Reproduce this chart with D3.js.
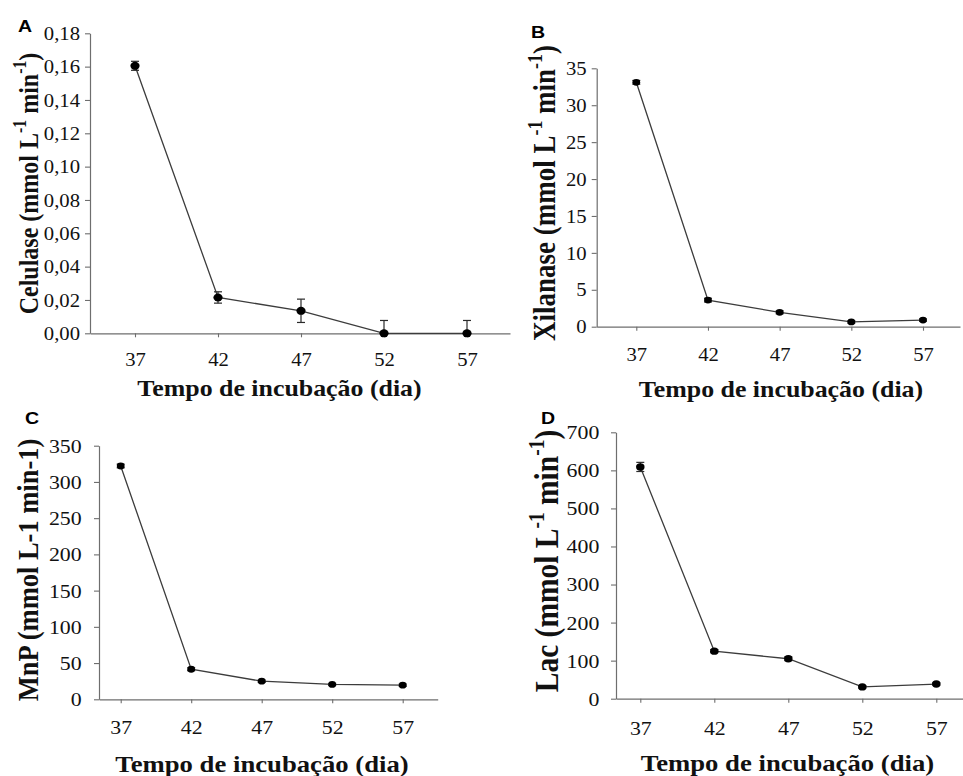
<!DOCTYPE html>
<html>
<head>
<meta charset="utf-8">
<script src="https://cdn.jsdelivr.net/npm/d3@7"></script>
<style>
  html, body { margin: 0; padding: 0; background: #fff; }
  svg { display: block; }
</style>
</head>
<body>
<svg id="chart" width="963" height="776"></svg>
<script>
// Incubation days (x categories)
const days = [37, 42, 47, 52, 57];

// Enzyme activity (mean) and error per day
const celulase    = [0.1605, 0.0215, 0.0135, 0.0, 0.0];
const celulaseErr = [0.0027, 0.0034, 0.0070, 0.0077, 0.0077];
const xilanase    = [33.1, 3.6, 1.95, 0.65, 0.9];
const xilanaseErr = [0.25, 0.25, 0.2, 0.15, 0.15];
const mnp         = [322, 41.5, 25, 20.5, 19.5];
const mnpErr      = [2.5, 2, 1.5, 1.5, 1.5];
const lac         = [609, 125, 105, 31, 38.5];
const lacErr      = [12, 4, 5, 3, 3];

// Y tick values
const celulaseTicks = [0, 0.02, 0.04, 0.06, 0.08, 0.10, 0.12, 0.14, 0.16, 0.18];
const xilanaseTicks = [0, 5, 10, 15, 20, 25, 30, 35];
const mnpTicks      = [0, 50, 100, 150, 200, 250, 300, 350];
const lacTicks      = [0, 100, 200, 300, 400, 500, 600, 700];

const xTitle = "Tempo de incubação (dia)";

const ptBR = d3.formatLocale({ decimal: ",", thousands: ".", grouping: [3], currency: ["R$", ""] });
const SX = 1.15;            // horizontal widening of glyphs
const SERIF = "'Liberation Serif', 'Times New Roman', serif";
const SANS = "'Liberation Sans', Arial, sans-serif";

const panels = [
  { letter: "A", letterPos: [25, 32], label: "Celulase", unitSup: true,
    values: celulase, errors: celulaseErr, ticks: celulaseTicks, fmt: ptBR.format(".2f"),
    axisL: 90, axisR: 510, yTop: 33.3, yBot: 333.3, x37: 135, x57: 467,
    tickFs: 18, labelGap: 10, xLabelOff: 26.7,
    yTitle: { x: 38, y: 183.5, fs: 24 }, xT: { x: 279.5, y: 396, fs: 22.5 }, r: 4 },
  { letter: "B", letterPos: [538, 38], label: "Xilanase", unitSup: true,
    values: xilanase, errors: xilanaseErr, ticks: xilanaseTicks, fmt: d3.format("d"),
    axisL: 596.7, axisR: 960, yTop: 68.3, yBot: 326.7, x37: 636.3, x57: 923,
    tickFs: 18, labelGap: 10, xLabelOff: 28.3,
    yTitle: { x: 555, y: 193, fs: 27 }, xT: { x: 781, y: 397, fs: 22.5 }, r: 3.4 },
  { letter: "C", letterPos: [32, 424], label: "MnP", unitSup: false,
    values: mnp, errors: mnpErr, ticks: mnpTicks, fmt: d3.format("d"),
    axisL: 99, axisR: 437.7, yTop: 445.7, yBot: 699.3, x37: 120.7, x57: 402.7,
    tickFs: 19, labelGap: 17.3, xLabelOff: 28.2,
    yTitle: { x: 38, y: 570, fs: 26.5 }, xT: { x: 262, y: 771.5, fs: 23.2 }, r: 3.4 },
  { letter: "D", letterPos: [548, 424], label: "Lac", unitSup: true,
    values: lac, errors: lacErr, ticks: lacTicks, fmt: d3.format("d"),
    axisL: 616, axisR: 963, yTop: 432.3, yBot: 698.7, x37: 640.3, x57: 936.3,
    tickFs: 19, labelGap: 16.7, xLabelOff: 29.6,
    yTitle: { x: 558, y: 561, fs: 29.5 }, xT: { x: 787.5, y: 770.5, fs: 23.2 }, r: 3.7 }
];

const svg = d3.select("#chart");
const AXIS = "#6e6e6e", LINE = "#3c3c3c", INK = "#111";

panels.forEach(p => {
  const g = svg.append("g");

  // x scale: day positions, axis line stretched to the panel edges
  const base = d3.scaleLinear().domain([37, 57]).range([p.x37, p.x57]);
  const x = d3.scaleLinear().domain([base.invert(p.axisL), base.invert(p.axisR)]).range([p.axisL, p.axisR]);
  const y = d3.scaleLinear().domain([0, d3.max(p.ticks)]).range([p.yBot, p.yTop]);

  // y axis
  const ya = g.append("g").attr("transform", `translate(${p.axisL},0)`)
    .call(d3.axisLeft(y).tickValues(p.ticks).tickFormat(p.fmt).tickSize(5).tickSizeOuter(0));
  ya.select(".domain").attr("stroke", AXIS).attr("stroke-width", 1.2);
  ya.selectAll(".tick line").attr("stroke", AXIS).attr("stroke-width", 1.1);
  ya.selectAll(".tick text")
    .attr("x", -p.labelGap / SX).attr("dy", "0.34em")
    .attr("transform", `scale(${SX},1)`)
    .attr("fill", INK).style("font-family", SERIF).style("font-size", p.tickFs + "px");

  // x axis
  const xa = g.append("g").attr("transform", `translate(0,${p.yBot})`)
    .call(d3.axisBottom(x).tickValues(days).tickFormat(d3.format("d")).tickSize(4).tickSizeOuter(0));
  xa.select(".domain").attr("stroke", AXIS).attr("stroke-width", 1.2);
  xa.selectAll(".tick line").attr("stroke", AXIS).attr("stroke-width", 1.1);
  xa.selectAll(".tick text")
    .attr("y", p.xLabelOff).attr("dy", "0.34em")
    .attr("transform", `scale(${SX},1)`)
    .attr("fill", INK).style("font-family", SERIF).style("font-size", p.tickFs + "px");

  const pts = days.map((d, i) => ({ d, v: p.values[i], e: p.errors[i] }));

  // connecting line
  g.append("path").datum(pts)
    .attr("fill", "none").attr("stroke", LINE).attr("stroke-width", 1.3)
    .attr("d", d3.line().x(q => x(q.d)).y(q => y(q.v)));

  // error bars (clipped at zero)
  const eb = g.append("g").attr("stroke", "#2a2a2a").attr("stroke-width", 1.2);
  pts.forEach(q => {
    const hi = y(q.v + q.e), lo = y(Math.max(0, q.v - q.e)), cx = x(q.d), cw = 4;
    eb.append("line").attr("x1", cx).attr("x2", cx).attr("y1", hi).attr("y2", lo);
    eb.append("line").attr("x1", cx - cw).attr("x2", cx + cw).attr("y1", hi).attr("y2", hi);
    if (q.v - q.e > 0) eb.append("line").attr("x1", cx - cw).attr("x2", cx + cw).attr("y1", lo).attr("y2", lo);
  });

  // markers
  g.selectAll("ellipse.pt").data(pts).join("ellipse")
    .attr("class", "pt")
    .attr("cx", q => x(q.d)).attr("cy", q => y(q.v))
    .attr("rx", p.r * SX).attr("ry", p.r).attr("fill", "#000");

  // y axis title (rotated)
  const yt = g.append("g")
    .attr("transform", `translate(${p.yTitle.x},${p.yTitle.y}) scale(${SX},1) rotate(-90)`)
    .append("text").attr("text-anchor", "middle").attr("fill", INK)
    .style("font-family", SERIF).style("font-weight", "bold").style("font-size", p.yTitle.fs + "px");
  const fs = p.yTitle.fs, sfs = fs * 0.66, up = fs * 0.42;
  if (p.unitSup) {
    yt.append("tspan").text(p.label + " (mmol L");
    yt.append("tspan").attr("dy", -up).style("font-size", sfs + "px").text("-1");
    yt.append("tspan").attr("dy", up).text(" min");
    yt.append("tspan").attr("dy", -up).style("font-size", sfs + "px").text("-1");
    yt.append("tspan").attr("dy", up).text(")");
  } else {
    yt.append("tspan").text(p.label + " (mmol L-1 min-1)");
  }

  // x axis title
  g.append("g").attr("transform", `translate(${p.xT.x},${p.xT.y}) scale(${SX},1)`)
    .append("text").attr("text-anchor", "middle").attr("fill", INK)
    .style("font-family", SERIF).style("font-weight", "bold").style("font-size", p.xT.fs + "px")
    .text(xTitle);

  // panel letter
  g.append("g").attr("transform", `translate(${p.letterPos[0]},${p.letterPos[1]}) scale(${SX},1)`)
    .append("text").attr("text-anchor", "middle").attr("fill", "#000")
    .style("font-family", SANS).style("font-weight", "bold").style("font-size", "17px")
    .text(p.letter);
});
</script>
</body>
</html>
